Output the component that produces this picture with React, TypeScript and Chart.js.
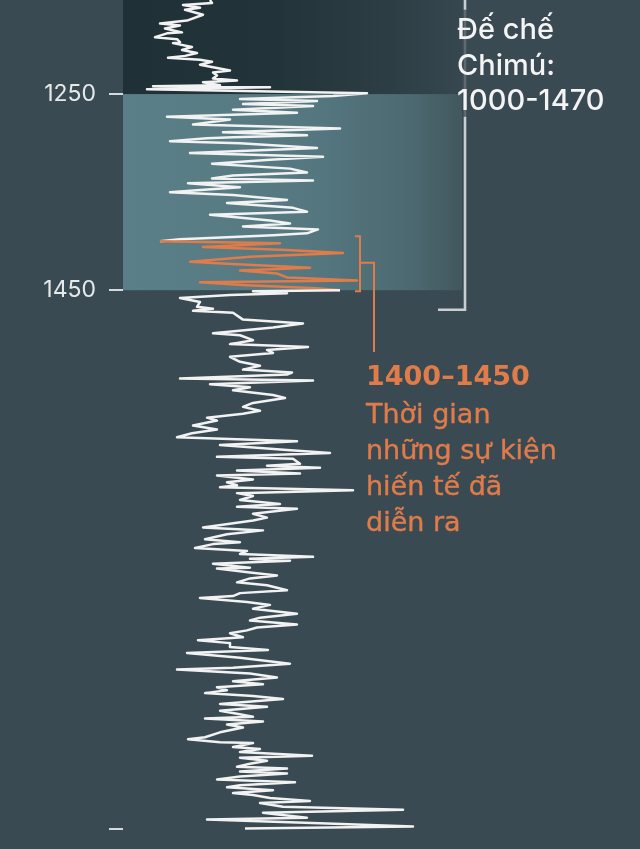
import React, { useEffect, useRef } from 'react';
import { Chart, registerables } from 'chart.js';

Chart.register(...registerables);

// Years (vertical axis, increasing downward)
const YEARS = [
  1154, 1157, 1159, 1162, 1164, 1169, 1175, 1178, 1180, 1183,
  1187, 1188, 1192, 1194, 1197, 1198, 1202, 1205, 1208, 1211,
  1213, 1215, 1217, 1220, 1226, 1228, 1231, 1234, 1236, 1238,
  1241, 1242, 1243, 1245, 1249, 1252, 1255, 1257, 1260, 1262,
  1266, 1269, 1273, 1276, 1281, 1283, 1285, 1289, 1292, 1294,
  1295, 1298, 1300, 1305, 1310, 1314, 1317, 1321, 1326, 1330,
  1333, 1336, 1338, 1341, 1345, 1348, 1350, 1353, 1358, 1361,
  1366, 1370, 1373, 1379, 1382, 1385, 1388, 1392, 1394, 1396,
  1398,
  1400, 1402, 1406, 1409, 1412, 1416, 1421, 1423, 1427, 1430,
  1433, 1437, 1440, 1442, 1445, 1448, 1450,
  1451, 1453, 1455, 1458, 1462, 1467, 1469, 1471, 1473, 1480,
  1484, 1488, 1494, 1496, 1501, 1505, 1508, 1511, 1514, 1518,
  1523, 1527, 1531, 1534, 1536, 1540, 1542, 1546, 1549, 1552,
  1557, 1560, 1565, 1569, 1573, 1576, 1580, 1583, 1588, 1592,
  1596, 1600, 1604, 1608, 1613, 1616, 1620, 1622, 1627, 1629,
  1631, 1634, 1637, 1639, 1643, 1646, 1649, 1651, 1654, 1657,
  1660, 1664, 1668, 1671, 1673, 1678, 1682, 1685, 1692, 1695,
  1699, 1704, 1707, 1709, 1713, 1716, 1719, 1722, 1724, 1726,
  1729, 1733, 1734, 1738, 1741, 1744, 1748, 1751, 1756, 1759,
  1762, 1764, 1768, 1771, 1775, 1780, 1784, 1787, 1791, 1794,
  1797, 1800, 1804, 1807, 1810, 1814, 1817, 1820, 1825, 1831,
  1835, 1837, 1841, 1845, 1849, 1852, 1855, 1858, 1861, 1864,
  1867, 1872, 1875, 1879, 1882, 1885, 1887, 1890, 1893, 1896,
  1901, 1906, 1908, 1911, 1912, 1916, 1918, 1921, 1925, 1927,
  1930, 1933, 1936, 1938, 1941, 1943, 1946, 1949, 1952, 1955,
  1957, 1960, 1963, 1965, 1968, 1971, 1973, 1977, 1980, 1983,
  1985, 1988, 1990, 1994, 1997, 1999,
];

// Index values (horizontal axis, arbitrary anomaly units)
const VALUES = [
  -40, -38, -67, -50, -65, -47, -63, -90, -70, -85,
  -68, -83, -95, -73, -70, -77, -58, -68, -53, -65,
  -82, -50, -38, -50, -20, -37, -33, -37, -13, -47,
  -30, -97, 20, -103, 117, 83, -10, 67, -7, 63,
  -17, 47, -83, -20, -57, 17, 90, -27, 57, -17,
  -43, -80, -10, 67, -60, 73, 20, -38, 40, 57,
  -17, -38, 63, -62, -10, -53, -80, -17, 37, -23,
  43, 57, -40, 20, 40, -7, 68, 57, 23, -23,
  -70,
  -90, 30, -47, 37, 93, 0, -60, -23, 60, -10,
  27, 37, 107, -50, -3, 67, 90,
  3, 37, -20, -70, -50, -53, -37, -57, -17, -7,
  53, 23, -37, -10, 3, -20, 58, 17, 23, -20,
  -10, 10, -7, 42, 37, -70, 63, -40, 0, -17,
  23, 35, 3, -7, 10, -7, -43, -33, -57, -33,
  -58, -73, 47, -30, 37, 80, -33, 43, 50, 17,
  70, -13, 50, -33, 3, -23, -13, -30, 103, -13,
  3, -10, 30, -13, 47, 3, 17, 3, -47, 13,
  -23, -45, -10, -37, -55, -3, -10, 63, 0, 40,
  -37, 0, -33, 0, 27, 0, -13, 17, 37, -10,
  -17, -50, -3, 20, 3, 47, 10, 0, 47, 7,
  -3, -20, -7, -52, -20, -20, 18, -63, -10, 40,
  -17, -73, 0, 27, -17, 13, -33, -23, -45, 3,
  33, -30, 17, -30, -13, 3, -45, 13, -23, -7,
  -30, -45, -62, -30, 3, -17, 10, -10, 62, -10,
  17, 0, -13, 37, -10, 37, -10, -33, 45, -10,
  -23, 23, -17, 3, 20, 60, 10, 33, 153, 13,
  30, 57, -43, 77, 163, -5,
];

const TICK_YEARS = [1250, 1450, 2000];
const TICK_LABELS = ['1250', '1450', ''];

const SHADED_START = 1250; // teal band
const SHADED_END = 1450;
const CHIMU_END = 1470;
const EVENT_START = 1400;
const EVENT_END = 1450;

const TITLE_LINES = ['Đế chế', 'Chimú:', '1000-1470'];
const NOTE_TITLE = '1400–1450';
const NOTE_LINES = ['Thời gian', 'những sự kiện', 'hiến tế đã', 'diễn ra'];

const BG = '#3a4a52';
const WHITE = '#f2f2f2';
const ORANGE = '#e07b4a';
const GREY = '#c9ced0';

const decorPlugin = {
  id: 'decor',
  beforeDatasetsDraw(chart: any) {
    const { ctx, chartArea, scales } = chart;
    const x = scales.x;
    const y = scales.y;
    const left = chartArea.left;
    const right = x.getPixelForValue(212);
    const top = chartArea.top;
    const yA = y.getPixelForValue(SHADED_START);
    const yB = y.getPixelForValue(SHADED_END);
    ctx.save();
    let g = ctx.createLinearGradient(left, 0, right, 0);
    g.addColorStop(0, '#1f3036');
    g.addColorStop(0.45, '#22343a');
    g.addColorStop(0.8, '#2d3e45');
    g.addColorStop(1, '#37474f');
    ctx.fillStyle = g;
    ctx.fillRect(left, top, right - left, yA - top);
    g = ctx.createLinearGradient(left, 0, right, 0);
    g.addColorStop(0, '#5b7f88');
    g.addColorStop(0.55, '#557880');
    g.addColorStop(0.85, '#4c6971');
    g.addColorStop(1, '#42575e');
    ctx.fillStyle = g;
    ctx.fillRect(left, yA, right - left, yB - yA);
    ctx.restore();
  },
  afterDatasetsDraw(chart: any) {
    const { ctx, chartArea, scales } = chart;
    const x = scales.x;
    const y = scales.y;
    ctx.save();
    // Chimú bracket (dimmed where it passes behind the label)
    ctx.strokeStyle = GREY;
    ctx.lineWidth = 2.6;
    ctx.lineCap = 'butt';
    const gx = x.getPixelForValue(215);
    const gy = y.getPixelForValue(CHIMU_END);
    const dimTop = y.getPixelForValue(1164);
    const dimBottom = y.getPixelForValue(1273);
    ctx.beginPath();
    ctx.moveTo(gx, chartArea.top);
    ctx.lineTo(gx, dimTop);
    ctx.moveTo(gx, dimBottom);
    ctx.lineTo(gx, gy);
    ctx.lineTo(x.getPixelForValue(188), gy);
    ctx.stroke();
    ctx.globalAlpha = 0.25;
    ctx.beginPath();
    ctx.moveTo(gx, dimTop);
    ctx.lineTo(gx, dimBottom);
    ctx.stroke();
    ctx.globalAlpha = 1;
    // event bracket
    ctx.strokeStyle = ORANGE;
    ctx.lineWidth = 2;
    const bx = x.getPixelForValue(110);
    const bxl = x.getPixelForValue(105);
    const bt = y.getPixelForValue(1395);
    const bb = y.getPixelForValue(1451);
    const bm = y.getPixelForValue(1422);
    const ox = x.getPixelForValue(124);
    const oy = y.getPixelForValue(1513);
    ctx.beginPath();
    ctx.moveTo(bxl, bt);
    ctx.lineTo(bx, bt);
    ctx.lineTo(bx, bb);
    ctx.lineTo(bxl, bb);
    ctx.moveTo(bx, bm);
    ctx.lineTo(ox, bm);
    ctx.lineTo(ox, oy);
    ctx.stroke();
    ctx.restore();
  },
};

export default function App() {
  const ref = useRef<HTMLCanvasElement | null>(null);

  useEffect(() => {
    document.body.style.margin = '0';
    const canvas = ref.current;
    if (!canvas) return;
    const points = YEARS.map((yr, i) => ({ x: VALUES[i], y: yr }));
    const chart = new Chart(canvas, {
      type: 'scatter',
      data: {
        datasets: [
          {
            data: points,
            showLine: true,
            borderColor: WHITE,
            borderWidth: 2.5,
            borderJoinStyle: 'round',
            pointRadius: 0,
            pointHoverRadius: 0,
            segment: {
              borderColor: (c: any) =>
                c.p0.parsed.y >= EVENT_START && c.p1.parsed.y <= EVENT_END ? ORANGE : WHITE,
            },
          } as any,
        ],
      },
      options: {
        responsive: false,
        animation: false,
        events: [],
        layout: { padding: 0 },
        plugins: { legend: { display: false }, tooltip: { enabled: false } },
        scales: {
          x: { type: 'linear', display: false, min: -127, max: 390 },
          y: {
            type: 'linear',
            reverse: true,
            min: 1154,
            max: 2020,
            afterBuildTicks: (s: any) => {
              s.ticks = TICK_YEARS.map((v) => ({ value: v }));
            },
            afterFit: (s: any) => {
              s.width = 123;
              s.paddingTop = 0;
              s.paddingBottom = 0;
            },
            ticks: {
              padding: 13,
              color: '#e6e9ea',
              font: { family: 'Inter', size: 23, weight: 400 as any },
              callback: (v: any) => {
                const i = TICK_YEARS.indexOf(Number(v));
                return i >= 0 ? TICK_LABELS[i] : '';
              },
            },
            grid: {
              drawOnChartArea: false,
              drawTicks: true,
              tickLength: 14,
              color: '#d6dadc',
              lineWidth: 2,
            },
            border: { display: false },
          },
        },
      },
      plugins: [decorPlugin],
    });
    return () => chart.destroy();
  }, []);

  return (
    <div
      style={{
        position: 'absolute',
        left: 0,
        top: 0,
        width: 640,
        height: 849,
        background: BG,
        overflow: 'hidden',
      }}
    >
      <canvas ref={ref} width={640} height={849} style={{ display: 'block' }} />
      <div
        style={{
          position: 'absolute',
          left: 457,
          top: 11,
          fontFamily: 'Inter, sans-serif',
          fontWeight: 500,
          fontSize: 29,
          lineHeight: '35.5px',
          color: '#f4f4f4',
          whiteSpace: 'nowrap',
        }}
      >
        {TITLE_LINES.map((t) => (
          <div key={t}>{t}</div>
        ))}
      </div>
      <div
        style={{
          position: 'absolute',
          left: 366,
          top: 361,
          fontFamily: '"DejaVu Sans", sans-serif',
          fontWeight: 700,
          fontSize: 27,
          lineHeight: '30px',
          color: ORANGE,
          whiteSpace: 'nowrap',
        }}
      >
        {NOTE_TITLE}
      </div>
      <div
        style={{
          position: 'absolute',
          left: 366,
          top: 396,
          fontFamily: '"DejaVu Sans", sans-serif',
          fontSize: 27,
          lineHeight: '36px',
          color: ORANGE,
          WebkitTextStroke: '0.4px ' + ORANGE,
          whiteSpace: 'nowrap',
        }}
      >
        {NOTE_LINES.map((t) => (
          <div key={t}>{t}</div>
        ))}
      </div>
    </div>
  );
}
